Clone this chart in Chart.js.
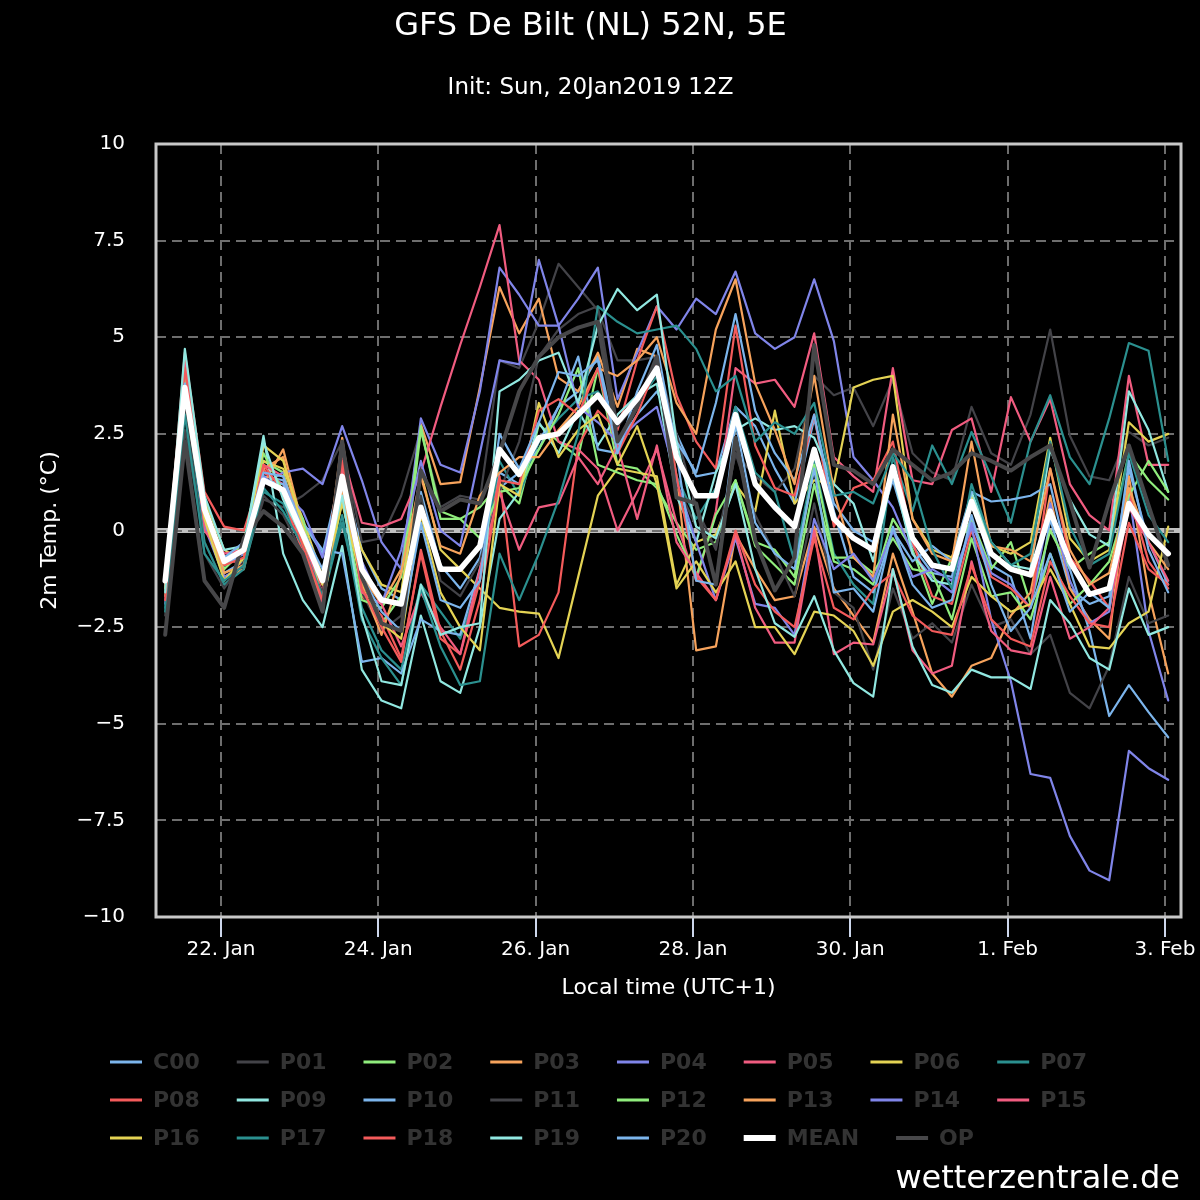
<!DOCTYPE html>
<html>
<head>
<meta charset="utf-8">
<title>GFS De Bilt (NL) 52N, 5E</title>
<script src="https://cdn.jsdelivr.net/npm/chart.js@4.4.1/dist/chart.umd.min.js"></script>
<style>
    html, body { margin: 0; padding: 0; background: #000; }
    canvas { display: block; background: #000; }
</style>
</head>
<body>
<canvas id="ensChart" width="1200" height="1200"></canvas>
<script>
// ==========================================
// DATA
// ==========================================
// hours after 22 Jan 00:00 local time (UTC+1), one run step every 6h
const hours = [-17, -11, -5, 1, 7, 13, 19, 25, 31, 37, 43, 49, 55, 61, 67, 73, 79, 85, 91, 97, 103, 109, 115, 121, 127, 133,
    139, 145, 151, 157, 163, 169, 175, 181, 187, 193, 199, 205, 211, 217, 223, 229, 235, 241, 247, 253, 259, 265, 271, 277, 283, 289];

const dateTicks = [0, 48, 96, 144, 192, 240, 288];
const dateLabels = ['22. Jan', '24. Jan', '26. Jan', '28. Jan', '30. Jan', '1. Feb', '3. Feb'];

// 2m temperature (°C) per member
const c00 = [-1.5, 3.9, 0.2, -1.1, -0.8, 1.4, 1.3, 0.2, -0.6, 1.6, -0.5, -1.5, -1.8,
    1.0, -0.9, -1.5, -0.7, 1.5, 1.2, 2.3, 3.2, 3.6, 4.5, 2.2, 3.0, 3.6,
    2.5, 1.4, 1.5, 3.2, 2.7, 1.6, 0.7, 2.9, 0.7, 0.0, -0.3, 1.3, -0.4,
    -1.1, -1.2, 0.9, -0.9, -1.2, -2.8, 0.3, -1.5, -1.9, -1.7, 1.6, -0.3, -1.4];
const p01 = [-2.2, 2.6, -0.3, -1.4, -0.9, 0.8, 0.6, 0.9, 1.3, 2.3, -0.3, -0.2, 0.9,
    2.6, 0.6, 0.9, 0.8, 4.4, 4.2, 5.4, 6.9, 6.3, 5.7, 4.4, 4.4, 4.5,
    2.5, 0.6, -0.5, 2.0, 1.4, 1.0, 1.6, 4.0, 3.5, 3.7, 2.7, 3.9, 2.0,
    1.5, 1.3, 3.2, 2.0, 1.7, 3.0, 5.2, 2.45, 1.4, 1.3, 2.55, 2.2, 2.4];
const p02 = [-1.6, 3.6, 0.3, -1.0, -0.5, 1.8, 1.5, -0.2, -1.4, 0.9, -1.1, -2.4, -1.7,
    2.6, 0.5, 0.3, 0.6, 1.2, 0.7, 2.75, 2.3, 1.9, 4.2, 1.7, 1.6, 1.1,
    0.2, -0.5, -0.3, 1.3, -0.4, -0.9, -1.4, 1.2, -0.8, -1.0, -1.4, 0.3, -0.5,
    -1.9, -0.7, 0.3, -1.0, -0.3, -1.9, 0.0, -1.0, -0.6, -0.3, 2.0, 1.3, 0.8];
const p03 = [-1.7, 3.8, 0.2, -1.2, -1.0, 1.2, 2.1, 0.1, -1.7, 2.4, -1.2, -1.9, -1.0,
    2.75, 1.2, 1.25, 3.7, 6.3, 5.1, 6.0, 3.95, 3.6, 4.6, 3.2, 4.7, 4.5,
    1.4, -3.1, -3.0, -0.1, -1.0, -1.8, -1.7, 0.1, -1.5, -2.2, -2.9, -0.6, -2.1,
    -3.7, -4.3, -3.5, -3.3, -2.2, -1.6, 0.9, -1.5, -2.3, -2.8, 1.4, -1.6, -3.7];
const p04 = [-1.9, 3.5, 0.1, -1.2, -0.9, 1.2, 1.5, 1.6, 1.2, 2.7, 1.3, -0.3, -1.0,
    2.9, 1.7, 1.5, 3.6, 6.8, 6.1, 5.3, 5.3, 6.0, 6.8, 3.4, 4.6, 5.8,
    5.2, 6.0, 5.6, 6.7, 5.1, 4.7, 5.0, 6.5, 4.9, 1.9, 1.3, 0.6, -0.6,
    -1.2, -1.6, 0.2, -1.1, -1.4, -2.0, 0.7, -1.3, -2.4, -2.1, 1.0, -2.6, -4.4];
const p05 = [-1.6, 4.4, 0.0, -0.7, -0.9, 1.5, 1.2, -0.3, -1.6, 2.0, 0.2, 0.1, 0.3,
    1.5, 3.2, 4.8, 6.3, 7.9, 4.4, 3.9, 2.3, 2.1, 1.6, 0.0, 1.0, 2.1,
    0.2, -1.3, 0.5, 4.2, 3.8, 3.9, 3.2, 5.1, 1.9, 1.4, 1.0, 4.2, 1.3,
    1.2, 2.6, 2.9, 1.0, 3.45, 2.3, 3.4, 1.2, 0.4, 0.0, 4.0, 1.7, 1.7];
const p06 = [-1.3, 3.9, 0.8, -0.5, -0.8, 1.8, 1.6, 0.3, -1.2, 1.1, -0.5, -1.4, -1.6,
    1.5, -0.5, -1.0, -1.5, -2.0, -2.1, -2.15, -3.3, -1.2, 0.9, 1.6, 1.5, 1.4,
    -1.4, -0.3, -0.1, 1.2, 0.5, 3.1, 0.7, 1.3, 1.2, 3.7, 3.9, 4.0, 0.3,
    -0.5, -0.7, 0.9, -0.4, -0.6, -0.3, 2.4, -0.2, -0.8, -0.5, 2.8, 2.3, 2.5];
const p07 = [-2.0, 3.3, -0.3, -1.4, -1.0, 1.0, 0.7, -0.5, -1.8, 0.2, -2.0, -3.1, -3.6,
    -1.4, -2.1, -2.8, -1.3, 1.8, 0.9, 2.3, 2.9, 3.4, 3.6, 2.8, 3.3, 4.0,
    1.4, 0.3, 1.1, 3.2, 1.5, 1.0, -0.8, 1.8, -0.6, -1.4, -1.9, 1.9, 0.5,
    2.2, 1.2, 2.55, 1.4, 0.2, 2.3, 3.5, 1.9, 1.2, 2.9, 4.85, 4.65, 1.8];
const p08 = [-1.4, 4.6, 1.0, 0.1, 0.0, 1.6, 0.9, -0.6, -1.4, 2.1, -1.7, -2.2, -3.3,
    -0.6, -2.8, -3.2, -1.3, 1.4, -3.0, -2.7, -1.6, 2.2, 3.1, 2.6, 4.4, 5.8,
    3.5, 2.3, 1.6, 5.3, 2.2, 1.1, 0.9, 3.0, 0.1, 1.1, 1.3, 2.3, -0.3,
    -1.7, -1.9, 0.0, -1.2, -1.5, -2.0, 1.6, -0.7, -1.3, -2.0, 1.0, -0.8, -1.5];
const p09 = [-1.5, 4.1, 0.6, -0.7, -0.4, 2.45, -0.6, -1.8, -2.5, -0.4, -3.6, -4.4, -4.6,
    -2.2, -3.9, -4.2, -2.5, 0.3, 1.0, 2.8, 2.0, 3.1, 2.2, 3.0, 3.5, 3.8,
    0.9, -0.3, 1.5, 2.6, 2.9, 2.6, 2.7, 2.4, 1.2, 0.7, -0.8, 1.5, -0.6,
    -1.3, -1.4, 1.0, -0.3, -0.9, -1.0, 2.1, 0.8, -0.1, -0.4, 3.6, 2.6, 1.0];
const p10 = [-1.2, 3.6, 0.4, -0.9, -0.6, 1.3, 1.2, 0.2, -0.5, -0.6, -3.4, -3.3, -3.7,
    -2.3, -2.6, -2.7, -1.0, 1.1, 1.5, 2.1, 3.2, 4.5, 2.1, 2.0, 3.3, 4.2,
    2.3, 1.5, 3.3, 5.6, 3.1, 2.0, 1.3, 3.0, 0.5, -1.2, -1.6, 0.0, -0.8,
    -0.4, -0.8, 1.0, 0.75, 0.8, 0.9, 1.2, -1.0, -2.6, -4.8, -4.0, -4.7, -5.35];
const p11 = [-1.6, 3.3, -0.6, -1.5, -0.8, 0.9, 0.4, -0.6, -1.6, 1.3, -1.6, -2.6, -2.2,
    0.9, -1.3, -1.7, -0.8, 1.0, 2.3, 4.5, 5.2, 5.6, 5.8, 2.7, 3.3, 4.1,
    1.2, 0.1, -0.4, 2.0, 0.4, -0.6, -1.7, 0.7, -1.6, -2.0, -3.6, -1.5, -2.8,
    -2.4, -2.9, -1.4, -2.5, -2.3, -3.2, -2.7, -4.2, -4.6, -3.5, -1.2, -2.4, -2.2];
const p12 = [-1.4, 4.0, 0.7, -0.9, -0.3, 2.0, 1.0, 0.3, -1.9, 0.8, -1.8, -2.0, -1.2,
    2.7, 0.3, 0.3, -0.2, 1.0, 1.1, 2.1, 3.0, 4.2, 1.7, 1.5, 1.3, 1.2,
    -0.1, -1.2, 0.4, 1.3, -0.3, -0.5, -1.2, 1.7, -0.7, -0.7, -1.1, -0.2, -1.0,
    -1.1, -2.3, -0.2, -1.7, -1.6, -2.3, -0.6, -1.9, -1.4, -0.8, 0.9, 1.8, 1.0];
const p13 = [-1.2, 4.2, 0.5, -1.1, -0.9, 1.6, 1.9, -0.3, -2.0, 1.0, -1.4, -2.7, -1.1,
    1.4, -0.4, -0.6, 0.9, 1.5, 1.9, 1.9, 2.6, 3.2, 4.2, 4.0, 4.4, 5.0,
    3.3, 2.5, 5.2, 6.5, 3.8, 2.6, 1.2, 4.0, 1.0, -0.7, -1.2, 3.0, 0.3,
    -0.6, -0.8, 2.3, -0.4, -0.5, -0.8, 1.6, -0.5, -1.4, -1.1, 1.1, -0.3, -1.0];
const p14 = [-1.5, 3.7, 0.5, -0.8, -0.6, 1.4, 1.0, 0.5, -0.7, 1.3, -0.8, -1.9, -0.5,
    1.8, 0.0, -0.4, 2.0, 4.4, 4.3, 7.0, 5.3, 3.2, 2.8, 2.3, 2.8, 3.2,
    1.3, -0.3, -1.8, -0.2, -1.9, -2.0, -2.7, 0.3, -1.0, -0.6, -1.3, 0.0, -1.2,
    -1.0, -1.3, 0.1, -2.3, -3.9, -6.3, -6.4, -7.9, -8.8, -9.05, -5.7, -6.15, -6.45];
const p15 = [-1.4, 4.3, 0.4, -0.6, -0.5, 1.7, 1.4, 0.0, -1.9, 1.6, -1.6, -1.9, -3.0,
    -1.6, -2.5, -3.2, -1.0, 1.0, -0.5, 0.6, 0.7, 1.9, 1.2, 2.2, 0.3, 2.2,
    -0.3, -1.1, -1.8, -0.1, -2.0, -2.9, -2.9, 0.0, -3.2, -2.9, -2.95, -1.0, -3.1,
    -3.7, -3.5, -0.8, -2.6, -3.1, -3.2, -1.2, -2.8, -2.5, -2.0, 0.6, -0.3, -1.3];
const p16 = [-1.5, 3.5, 0.3, -1.3, -0.7, 2.2, 1.8, 0.1, -1.4, 0.7, -1.3, -2.4, -2.8,
    0.4, -1.6, -2.5, -3.1, 1.2, 0.9, 3.3, 1.9, 2.6, 3.0, 1.7, 2.7, 1.2,
    -1.5, -0.8, -1.6, -0.8, -2.5, -2.5, -3.2, -2.1, -2.2, -2.6, -3.5, -2.1, -1.8,
    -2.1, -2.5, -1.2, -1.7, -2.1, -1.9, -1.0, -1.9, -3.0, -3.05, -2.4, -2.1, 0.1];
const p17 = [-2.1, 3.0, -0.6, -1.3, -0.9, 1.1, 0.5, -0.4, -1.7, 0.4, -2.3, -3.3, -4.0,
    -1.5, -3.0, -4.0, -3.9, -0.6, -1.8, -0.6, 0.8, 2.5, 5.8, 5.4, 5.1, 5.2,
    5.3, 4.7, 3.6, 4.0, 2.3, 2.8, 2.5, 3.3, 0.9, 1.0, 0.7, 2.0, 1.3,
    -0.5, -1.5, 1.2, -0.3, -0.9, -0.6, 2.3, 0.1, -0.9, -0.6, 2.0, 0.4, -0.3];
const p18 = [-1.8, 4.2, 0.5, -0.9, -0.7, 1.7, 1.0, -0.4, -1.8, 1.8, -1.5, -2.5, -3.4,
    -0.5, -2.6, -3.6, -1.8, 1.3, 1.2, 3.1, 3.4, 3.0, 4.2, 2.0, 3.0, 4.3,
    1.4, -1.2, -1.8, 0.0, -1.4, -2.1, -2.5, -0.2, -2.0, -2.3, -1.5, -1.1, -2.2,
    -2.6, -2.7, -0.9, -2.3, -2.8, -3.0, -0.8, -1.7, -2.4, -2.5, 0.2, -1.0, -1.4];
const p19 = [-1.6, 4.7, 0.9, -0.5, -0.4, 2.3, 0.8, -0.2, -1.2, 0.9, -2.2, -3.9, -4.0,
    -1.4, -2.7, -2.5, -2.4, 3.6, 3.9, 4.4, 4.6, 3.3, 5.3, 6.25, 5.7, 6.1,
    2.3, 0.1, -0.2, 1.2, -1.0, -2.4, -2.75, -1.7, -3.1, -3.95, -4.3, -1.0, -3.0,
    -4.0, -4.2, -3.6, -3.8, -3.8, -4.1, -1.8, -2.4, -3.3, -3.6, -1.5, -2.7, -2.5];
const p20 = [-1.3, 3.8, 0.6, -0.7, -0.3, 1.5, 1.4, 0.0, -1.0, 1.2, -1.2, -2.1, -2.6,
    0.2, -1.8, -2.0, -1.3, 2.5, 1.6, 2.8, 4.1, 4.0, 4.4, 2.0, 3.6, 4.8,
    2.0, -1.3, -1.4, 2.8, 0.2, -0.6, -1.0, 1.6, -1.6, -1.5, -2.1, 0.1, -1.4,
    -2.0, -1.8, 0.4, -1.4, -2.6, -2.0, -0.6, -2.1, -1.6, -2.0, 1.8, -0.5, -1.6];
const ensMean = [-1.3, 3.7, 0.55, -0.8, -0.5, 1.3, 1.05, -0.1, -1.3, 1.4, -1.0, -1.8, -1.9,
    0.6, -1.0, -1.0, -0.4, 2.1, 1.45, 2.4, 2.5, 3.0, 3.5, 2.8, 3.4, 4.2,
    1.9, 0.9, 0.9, 3.0, 1.2, 0.6, 0.1, 2.1, 0.3, -0.2, -0.5, 1.65, -0.2,
    -0.9, -1.0, 0.75, -0.6, -1.0, -1.15, 0.5, -0.8, -1.65, -1.5, 0.7, -0.1, -0.6];
const opRun = [-2.7, 2.3, -1.3, -2.0, -0.2, 0.5, 0.1, -0.6, -2.1, 2.3, -1.2, -2.4, -2.6,
    1.55, 0.5, 0.8, 0.7, 2.0, 3.6, 4.5, 5.0, 5.25, 5.4, 2.3, 3.2, 4.5,
    0.85, 0.7, -1.4, 2.4, -0.25, -1.55, -0.7, 4.8, 1.7, 1.55, 1.2, 2.1, 1.7,
    1.3, 1.5, 2.0, 1.8, 1.55, 1.9, 2.2, 0.75, -0.96, 0.75, 2.2, 0.65, -0.9];

// ==========================================
// STYLE
// ==========================================
const FONT = "'DejaVu Sans', 'Liberation Sans', sans-serif";
const BLUE = '#7cb5ec', GREY = '#434348', GREEN = '#90ed7d', ORANGE = '#f7a35c', PURPLE = '#8085e9';
const PINK = '#f15c80', YELLOW = '#e4d354', TEAL = '#2b908f', RED = '#f45b5b', CYAN = '#91e8e1';

const series = [
    { name: 'C00', values: c00, color: BLUE }, { name: 'P01', values: p01, color: GREY },
    { name: 'P02', values: p02, color: GREEN }, { name: 'P03', values: p03, color: ORANGE },
    { name: 'P04', values: p04, color: PURPLE }, { name: 'P05', values: p05, color: PINK },
    { name: 'P06', values: p06, color: YELLOW }, { name: 'P07', values: p07, color: TEAL },
    { name: 'P08', values: p08, color: RED }, { name: 'P09', values: p09, color: CYAN },
    { name: 'P10', values: p10, color: BLUE }, { name: 'P11', values: p11, color: GREY },
    { name: 'P12', values: p12, color: GREEN }, { name: 'P13', values: p13, color: ORANGE },
    { name: 'P14', values: p14, color: PURPLE }, { name: 'P15', values: p15, color: PINK },
    { name: 'P16', values: p16, color: YELLOW }, { name: 'P17', values: p17, color: TEAL },
    { name: 'P18', values: p18, color: RED }, { name: 'P19', values: p19, color: CYAN },
    { name: 'P20', values: p20, color: BLUE },
    { name: 'MEAN', values: ensMean, color: '#ffffff', width: 5.5, legendWidth: 6, top: true },
    { name: 'OP', values: opRun, color: '#474749', width: 4, legendWidth: 4 }
];

document.addEventListener('DOMContentLoaded', () => {
    renderEnsembleChart();
});

// minus sign like the original axis labels
function formatTemp(v) {
    return String(v).replace('-', '\u2212');
}

// light grey band behind the 0 °C grid line
const zeroLinePlugin = {
    id: 'zeroLine',
    beforeDraw(chart) {
        const { ctx, chartArea, scales } = chart;
        const y0 = scales.y.getPixelForValue(0);
        ctx.save();
        ctx.strokeStyle = '#c0c0c0';
        ctx.lineWidth = 5;
        ctx.beginPath();
        ctx.moveTo(chartArea.left, y0);
        ctx.lineTo(chartArea.right, y0);
        ctx.stroke();
        ctx.restore();
    }
};

// frame round the plot area
const framePlugin = {
    id: 'plotFrame',
    afterDatasetsDraw(chart) {
        const { ctx, chartArea: a } = chart;
        ctx.save();
        ctx.strokeStyle = '#c8c8c8';
        ctx.lineWidth = 3;
        ctx.strokeRect(a.left, a.top, a.right - a.left, a.bottom - a.top);
        ctx.restore();
    }
};

// legend (8 items per row, left aligned) and site credit
const legendPlugin = {
    id: 'ensLegend',
    afterDraw(chart) {
        const ctx = chart.ctx;
        const rowY = [1062, 1100, 1138];
        ctx.save();
        ctx.font = "bold 22px " + FONT;
        ctx.textBaseline = 'middle';
        series.forEach((s, i) => {
            const row = Math.floor(i / 8);
            if (i % 8 === 0) chart._legendX = 110;
            const x = chart._legendX;
            const y = rowY[row];
            ctx.strokeStyle = s.color;
            ctx.lineWidth = s.legendWidth || 3;
            ctx.beginPath();
            ctx.moveTo(x, y);
            ctx.lineTo(x + 32, y);
            ctx.stroke();
            ctx.fillStyle = '#333333';
            ctx.fillText(s.name, x + 43, y + 1.5);
            chart._legendX = x + 43 + ctx.measureText(s.name).width + 37;
        });

        ctx.font = "32px " + FONT;
        ctx.fillStyle = '#ffffff';
        ctx.textAlign = 'right';
        ctx.textBaseline = 'alphabetic';
        ctx.fillText('wetterzentrale.de', 1180, 1188);
        ctx.restore();
    }
};

function renderEnsembleChart() {
    const ctx = document.getElementById('ensChart');
    if (!ctx) return;

    const datasets = series.map((s, i) => ({
        label: s.name,
        data: hours.map((h, k) => ({ x: h, y: s.values[k] })),
        borderColor: s.color,
        backgroundColor: s.color,
        borderWidth: s.width || 2.2,
        borderJoinStyle: 'round',
        borderCapStyle: 'round',
        pointRadius: 0,
        tension: 0,
        fill: false,
        // later series on top, the mean above everything
        order: s.top ? -100 : -i
    }));

    new Chart(ctx, {
        type: 'line',
        data: { datasets },
        options: {
            responsive: false,
            devicePixelRatio: 1,
            animation: false,
            events: [],
            layout: { padding: { left: 0, right: 19, top: 0, bottom: 183 } },
            plugins: {
                legend: { display: false },
                tooltip: { enabled: false },
                title: {
                    display: true, text: 'GFS De Bilt (NL) 52N, 5E', color: '#ffffff',
                    font: { family: FONT, size: 32, weight: 'normal' },
                    padding: { top: 7, bottom: 0 }
                },
                subtitle: {
                    display: true, text: 'Init: Sun, 20Jan2019 12Z', color: '#ffffff',
                    font: { family: FONT, size: 23, weight: 'normal' },
                    padding: { top: 29, bottom: 42 }
                }
            },
            scales: {
                x: {
                    type: 'linear',
                    min: -19.8,
                    max: 292.9,
                    afterBuildTicks: (scale) => { scale.ticks = dateTicks.map(v => ({ value: v })); },
                    afterFit: (scale) => { scale.height = 100; scale.paddingLeft = 0; scale.paddingRight = 0; },
                    ticks: {
                        color: '#ffffff', font: { family: FONT, size: 20 }, padding: 1,
                        maxRotation: 0, autoSkip: false,
                        callback: (v) => dateLabels[dateTicks.indexOf(v)]
                    },
                    grid: {
                        color: '#6e6e6e', lineWidth: 2, drawTicks: true, tickLength: 20,
                        tickColor: '#ccd6eb', tickWidth: 2, tickBorderDash: []
                    },
                    border: { display: false, dash: [10, 6] },
                    title: {
                        display: true, text: 'Local time (UTC+1)', color: '#ffffff',
                        font: { family: FONT, size: 22 }, padding: { top: 0, bottom: 16 }
                    }
                },
                y: {
                    min: -10,
                    max: 10,
                    afterFit: (scale) => { scale.width = 156; scale.paddingTop = 0; scale.paddingBottom = 0; },
                    ticks: {
                        stepSize: 2.5, color: '#ffffff', font: { family: FONT, size: 20 }, padding: 31,
                        callback: (v) => formatTemp(v)
                    },
                    grid: { color: '#6e6e6e', lineWidth: 2, drawTicks: false },
                    border: { display: false, dash: [10, 6] },
                    title: {
                        display: true, text: '2m Temp. (°C)', color: '#ffffff',
                        font: { family: FONT, size: 22 }, padding: { top: 37, bottom: 0 }
                    }
                }
            }
        },
        plugins: [zeroLinePlugin, framePlugin, legendPlugin]
    });
}
</script>
</body>
</html>
